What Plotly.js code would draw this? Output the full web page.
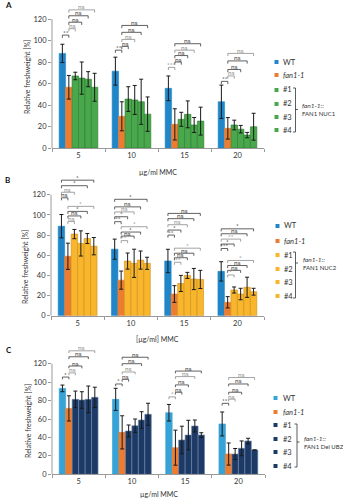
<!DOCTYPE html>
<html><head><meta charset="utf-8">
<script src="https://cdn.plot.ly/plotly-3.0.1.min.js"></script>
<style>html,body{margin:0;padding:0;background:#fff}#chart{width:343px;height:500px}</style>
</head><body><div id="chart"></div>
<script>
const categories = ['5','10','15','20'];
const seriesNames = ['WT','fan1-1','#1','#2','#3','#4'];
const yTicks = [0,20,40,60,80,100,120];

// Panel A (fan1-1::FAN1 NUC1)
const A_WT  = [88,71.5,55.5,43];
const A_fan = [56.5,29.5,22,18.3];
const A_1   = [67,45.5,26.7,21.4];
const A_2   = [65,44.7,31.3,17.5];
const A_3   = [64,43,21.4,12];
const A_4   = [56.5,31.5,25,19.8];
const A_WT_err  = [8.5,13,11.5,15.5];
const A_fan_err = [11,13.5,14.5,10];
const A_1_err   = [3.5,11.5,6.5,4.5];
const A_2_err   = [15,13.5,12.5,3.5];
const A_3_err   = [7,21,7,2.5];
const A_4_err   = [13,16,13,12.5];
// [category, bar i, bar j, level, label]
const sigA = [
 [0,0,1,105,'**'],[0,1,2,111,'ns'],[0,1,3,117,'ns'],[0,1,4,123,'ns'],[0,1,5,128.5,'ns'],
 [1,0,1,91,'**'],[1,1,2,94.5,'ns'],[1,1,3,101,'ns'],[1,1,4,107.6,'ns'],[1,1,5,114,'ns'],
 [2,0,1,75,'***'],[2,1,2,80,'ns'],[2,1,3,86,'ns'],[2,1,4,91,'ns'],[2,1,5,97,'ns'],
 [3,0,1,62,'**'],[3,1,2,67,'ns'],[3,1,3,73,'ns'],[3,1,4,81,'ns'],[3,1,5,88,'ns']
];

// Panel B (fan1-1::FAN1 NUC2)
const B_WT  = [88.8,66,54.3,44];
const B_fan = [59,35.3,21.5,13.3];
const B_1   = [81,54.2,32,25.5];
const B_2   = [71.7,52,40,21.5];
const B_3   = [76.6,55.2,36.4,28.2];
const B_4   = [69,52,36,23.8];
const B_WT_err  = [11.6,10,11.6,9.6];
const B_fan_err = [13,9,8.3,5.6];
const B_1_err   = [4.6,8,8,3];
const B_2_err   = [12.5,14,3,5.7];
const B_3_err   = [5,9,10.5,10];
const B_4_err   = [8.6,6,9,3.4];
const sigB = [
 [0,0,1,117,'ns'],[0,0,2,122.5,'ns'],[0,0,4,129,'*'],[0,0,5,134.5,'*'],
 [0,1,2,93.5,'ns'],[0,1,3,99,'ns'],[0,1,4,103.5,'*'],[0,1,5,108.5,'*'],
 [1,0,1,93.3,'**'],[1,0,2,98.2,'*'],[1,0,3,103,'ns'],[1,0,4,108,'ns'],[1,0,5,115.5,'*'],
 [1,1,2,74.5,'**'],[1,1,3,79,'ns'],[1,1,4,83,'*'],[1,1,5,88.3,'*'],
 [2,0,1,80,'**'],[2,0,2,85,'*'],[2,0,3,90.3,'ns'],[2,0,4,96.3,'ns'],[2,0,5,101.5,'ns'],
 [2,1,2,53,'**'],[2,1,3,57.5,'ns'],[2,1,4,62,'ns'],[2,1,5,67,'*'],
 [3,0,1,66.7,'***'],[3,0,2,71.1,'*'],[3,0,3,76,'**'],[3,0,4,81.3,'ns'],[3,0,5,86.2,'*'],
 [3,1,2,40.4,'*'],[3,1,3,45,'ns'],[3,1,4,49.8,'ns'],[3,1,5,54.8,'*']
];

// Panel C (fan1-1::FAN1 Del UBZ)
const C_WT  = [93.2,81.3,66.8,54.6];
const C_fan = [71.5,45.5,28.9,22];
const C_1   = [81.3,47,37.2,22];
const C_2   = [80.6,52.7,42.6,28.2];
const C_3   = [81.3,58.9,52.4,36.1];
const C_4   = [83.5,65.1,42.6,26.4];
const C_WT_err  = [3.6,12,9,13];
const C_fan_err = [13.7,18,19,12];
const C_1_err   = [9,6.5,15,6];
const C_2_err   = [9,7.3,16,8];
const C_3_err   = [14.5,9,6.5,3];
const C_4_err   = [11,12,2.5,0];
const sigC = [
 [0,0,1,105.5,'*'],[0,1,2,110,'ns'],[0,1,3,117.5,'ns'],[0,1,4,127.5,'ns'],[0,1,5,134,'ns'],
 [1,0,1,98,'*'],[1,1,2,103,'ns'],[1,1,3,111,'ns'],[1,1,4,120,'ns'],[1,1,5,127,'ns'],
 [2,0,1,84,'*'],[2,1,2,89,'ns'],[2,1,3,97,'ns'],[2,1,4,106,'ns'],[2,1,5,112,'ns'],
 [3,0,1,77,'**'],[3,1,2,81.5,'ns'],[3,1,3,89,'ns'],[3,1,4,98,'ns'],[3,1,5,105,'ns']
];

const W = 343, H = 500;
const px = v => v / W, py = v => 1 - v / H;
const FONT = 'Lato, "Open Sans", sans-serif';
const BARGAP = 0.27;
const off = i => -(1 - BARGAP) / 2 + (i + 0.5) * (1 - BARGAP) / 6;

const blue = '#2086c8', blueC = '#36a2d6', orange = '#ec7c30';
const panels = [
 {id:'', vals:[A_WT,A_fan,A_1,A_2,A_3,A_4], errs:[A_WT_err,A_fan_err,A_1_err,A_2_err,A_3_err,A_4_err],
  colors:[blue,orange,'#48a84b','#48a84b','#48a84b','#48a84b'], lines:[blue,orange,'#2f7a33','#2f7a33','#2f7a33','#2f7a33'],
  xdom:[52,264], y0:148, ytop:1.8, rmax:136, sig:sigA,
  leg:{sqX:274.5, txtX:280.5, ys:[62,75,90,104,117,130], bx:295.5, by0:88, by1:132, bym:109.5, lx:300, ly:[106,113.5], label:'FAN1 NUC1'},
  letter:['A',3,5], xt:['µg/ml MMC',172], yt:[27,77]},
 {id:'2', vals:[B_WT,B_fan,B_1,B_2,B_3,B_4], errs:[B_WT_err,B_fan_err,B_1_err,B_2_err,B_3_err,B_4_err],
  colors:[blue,orange,'#f9b62c','#f9b62c','#f9b62c','#f9b62c'], lines:[blue,orange,'#c98f1c','#c98f1c','#c98f1c','#c98f1c'],
  xdom:[51,264], y0:315.7, ytop:171.6, rmax:143, sig:sigB,
  leg:{sqX:275.5, txtX:281.5, ys:[226,241,255,269,282,296], bx:295.5, by0:252, by1:298, bym:263, lx:301, ly:[259,267], label:'FAN1 NUC2'},
  letter:['B',3,180], xt:['[µg/ml] MMC',339], yt:[25,267]},
 {id:'3', vals:[C_WT,C_fan,C_1,C_2,C_3,C_4], errs:[C_WT_err,C_fan_err,C_1_err,C_2_err,C_3_err,C_4_err],
  colors:[blueC,orange,'#1d3a66','#1d3a66','#1d3a66','#1d3a66'], lines:[blueC,orange,'#6f88ad','#6f88ad','#6f88ad','#6f88ad'],
  xdom:[52,265], y0:474.3, ytop:342.5, rmax:143, sig:sigC,
  leg:{sqX:273.5, txtX:280.5, ys:[398,412,425,439,452,466], bx:297, by0:424, by1:467, bym:442, lx:301.5, ly:[438,446], label:'FAN1 Del UBZ'},
  letter:['C',4,350], xt:['µg/ml MMC',494], yt:[28,421]}
];

const traces = [], shapes = [], annotations = [];
const layout = {
  width: W, height: H, margin:{l:0,r:0,t:0,b:0}, paper_bgcolor:'#fff', plot_bgcolor:'rgba(0,0,0,0)',
  barmode:'group', bargap:BARGAP, bargroupgap:0, showlegend:false,
  font:{family:FONT, size:7, color:'#333'}
};

panels.forEach(p => {
  const xa = 'x' + p.id, ya = 'y' + p.id;
  p.vals.forEach((v, s) => {
    traces.push({type:'bar', x:categories, y:v, name:seriesNames[s], xaxis:xa, yaxis:ya,
      marker:{color:p.colors[s], line:{color:p.lines[s], width:0.6}},
      error_y:{type:'data', array:p.errs[s], visible:true, color:'#1a1a1a', thickness:1, width:2}});
  });
  layout['xaxis' + p.id] = {domain:[px(p.xdom[0]), px(p.xdom[1])], anchor:ya, type:'category',
    showline:true, linecolor:'#9a9a9a', linewidth:1, ticks:'outside', tickson:'boundaries', ticklen:3,
    tickcolor:'#9a9a9a', tickfont:{size:7.5, color:'#333', family:FONT}, showgrid:false, zeroline:false, fixedrange:true};
  layout['yaxis' + p.id] = {domain:[py(p.y0), py(p.ytop)], anchor:xa, range:[0, p.rmax],
    tickvals:yTicks, ticks:'outside', ticklen:3, tickcolor:'#9a9a9a', showline:false, showgrid:false,
    zeroline:false, tickfont:{size:7.5, color:'#333', family:FONT}, fixedrange:true};
  // y axis line from 0 to 120
  shapes.push({type:'line', xref:'paper', yref:ya, x0:px(p.xdom[0]), x1:px(p.xdom[0]), y0:0, y1:120,
    line:{color:'#9a9a9a', width:1}});
  // significance brackets
  const d = 2.5;
  p.sig.forEach(([c, i, j, lv, lab], k) => {
    const x1 = c + off(i), x2 = c + off(j);
    const col = (k % 3 === 1) ? '#8c8c8c' : '#3a3a3a';
    const ln = {color:col, width:0.8};
    shapes.push({type:'line', xref:xa, yref:ya, x0:x1, x1:x1, y0:lv - d, y1:lv, line:ln});
    shapes.push({type:'line', xref:xa, yref:ya, x0:x1, x1:x2, y0:lv, y1:lv, line:ln});
    shapes.push({type:'line', xref:xa, yref:ya, x0:x2, x1:x2, y0:lv, y1:lv - d, line:ln});
    annotations.push({xref:xa, yref:ya, x:(x1 + x2) / 2, y:lv, text:lab, showarrow:false,
      xanchor:'center', yanchor:'bottom', yshift:-1.5, borderpad:0, font:{size:6.5, color:col, family:FONT}});
  });
  // legend (manual)
  const L = p.leg;
  L.ys.forEach((yy, s) => {
    shapes.push({type:'rect', xref:'paper', yref:'paper', x0:px(L.sqX), x1:px(L.sqX + 4), y0:py(yy + 2), y1:py(yy - 2),
      fillcolor:p.colors[s], line:{width:0}});
    annotations.push({xref:'paper', yref:'paper', x:px(L.txtX), y:py(yy), text:s === 1 ? '<i>' + seriesNames[s] + '</i>' : seriesNames[s],
      showarrow:false, xanchor:'left', yanchor:'middle', font:{size:7.5, color:'#333', family:FONT}});
  });
  shapes.push({type:'path', xref:'paper', yref:'paper',
    path:`M ${px(L.bx-2.5)},${py(L.by0)} L ${px(L.bx)},${py(L.by0)} L ${px(L.bx)},${py(L.by1)} L ${px(L.bx-2.5)},${py(L.by1)} M ${px(L.bx)},${py(L.bym)} L ${px(L.bx+2.5)},${py(L.bym)}`,
    line:{color:'#333', width:0.8}});
  annotations.push({xref:'paper', yref:'paper', x:px(L.lx), y:py(L.ly[0]), text:'<i>fan1-1::</i>', showarrow:false,
    xanchor:'left', yanchor:'middle', font:{size:6.5, color:'#333', family:FONT}});
  annotations.push({xref:'paper', yref:'paper', x:px(L.lx), y:py(L.ly[1]), text:L.label, showarrow:false,
    xanchor:'left', yanchor:'middle', font:{size:6, color:'#333', family:FONT}});
  // panel letter, axis titles
  annotations.push({xref:'paper', yref:'paper', x:px(p.letter[1]), y:py(p.letter[2]), text:'<b>' + p.letter[0] + '</b>',
    showarrow:false, xanchor:'left', yanchor:'middle', font:{size:8, color:'#111', family:FONT}});
  annotations.push({xref:'paper', yref:'paper', x:px((p.xdom[0] + p.xdom[1]) / 2), y:py(p.xt[1]), text:p.xt[0],
    showarrow:false, xanchor:'center', yanchor:'middle', font:{size:7, color:'#333', family:FONT}});
  annotations.push({xref:'paper', yref:'paper', x:px(p.yt[0]), y:py(p.yt[1]), text:'Relative freshweight [%]',
    showarrow:false, textangle:-90, xanchor:'center', yanchor:'middle', font:{size:7, color:'#333', family:FONT}});
});

layout.shapes = shapes;
layout.annotations = annotations;
Plotly.newPlot('chart', traces, layout, {displayModeBar:false, staticPlot:true});
</script>
</body></html>
